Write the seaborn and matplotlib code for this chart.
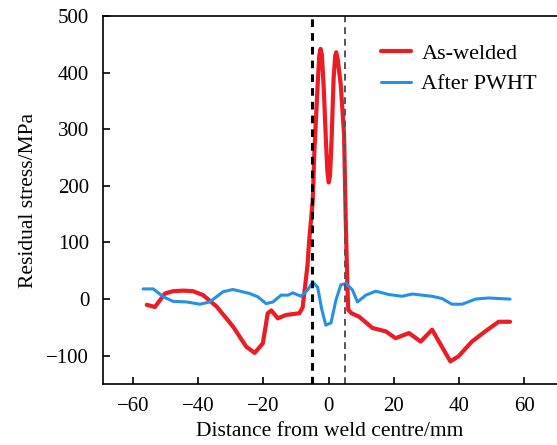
import numpy as np
import pandas as pd
import seaborn as sns
import matplotlib
matplotlib.use('Agg')
import matplotlib.pyplot as plt

# As-welded residual stress profile
x_welded = [-55.8, -53.3, -50.2, -47.7, -44.5, -41.6, -38.5, -34.4, -29.4, -25.3,
            -22.7, -20.2, -18.7, -17.6, -15.6, -13.1, -9.0, -8.0, -7.5, -6.5,
            -6.0, -4.9, -4.4, -3.4, -2.9, -2.5, -2.1, -1.5, -0.9, -0.4,
            0.0, 0.4, 0.9, 1.5, 2.0, 2.3, 2.8, 3.7, 4.7, 5.2,
            5.7, 6.0, 7.0, 9.3, 13.4, 17.5, 20.5, 24.6, 28.2, 31.7,
            34.7, 37.3, 39.8, 43.9, 48.0, 52.1, 55.6]
y_welded = [-10, -14, 10, 14, 15, 14, 7, -13, -48, -84,
            -95, -78, -25, -20, -34, -28, -25, -15, 10, 60,
            103, 174, 261, 378, 430, 442, 432, 370, 285, 225,
            206, 218, 285, 390, 430, 436, 422, 378, 291, 144,
            28, -19, -25, -31, -51, -57, -69, -60, -75, -54,
            -84, -110, -101, -75, -57, -40, -40]

# After PWHT residual stress profile
x_pwht = [-56.9, -53.8, -50.7, -47.7, -43.6, -39.5, -36.5, -32.4, -29.4, -24.3,
          -21.7, -19.2, -17.1, -14.6, -12.5, -11.0, -8.5, -6.5, -4.9, -3.4,
          -2.1, -0.9, 0.7, 2.2, 3.7, 5.3, 7.3, 8.8, 11.4, 14.4,
          18.5, 22.5, 25.6, 31.7, 34.7, 37.8, 40.9, 45.0, 49.0, 55.6]
y_pwht = [18, 18, 4, -4, -5, -9, -5, 13, 17, 10,
          4, -8, -5, 7, 7, 11, 5, 16, 30, 21,
          -19, -46, -42, -2, 25, 28, 16, -5, 7, 14,
          8, 5, 9, 5, 1, -9, -9, 0, 2, 0]

df = pd.concat([
    pd.DataFrame({'x': x_welded, 'y': y_welded, 'series': 'As-welded'}),
    pd.DataFrame({'x': x_pwht, 'y': y_pwht, 'series': 'After PWHT'}),
])

sns.set_style('ticks', {'axes.edgecolor': 'black', 'text.color': 'black',
                        'axes.labelcolor': 'black', 'xtick.color': 'black',
                        'ytick.color': 'black'})
plt.rcParams['font.family'] = ['Liberation Serif', 'DejaVu Serif']

fig = plt.figure(figsize=(5.57, 4.45), dpi=100)
ax = fig.add_axes([0.185, 0.137, 0.815, 0.827])

sns.lineplot(data=df, x='x', y='y', hue='series', sort=False, estimator=None,
             palette={'As-welded': '#ec1c24', 'After PWHT': '#2690e6'},
             ax=ax, legend=True)
for line, lw in zip(ax.lines, [3.0, 2.2]):
    line.set_linewidth(lw)

ax.axvline(-5, color='black', linestyle='--', linewidth=2.2, dashes=(2.5, 2))
ax.axvline(5, color='#555555', linestyle='--', linewidth=1.4, dashes=(3.5, 2.5))

ax.set_xlim(-69.2, 70)
ax.set_ylim(-150, 500)
ax.set_xticks([-60, -40, -20, 0, 20, 40, 60])
ax.set_yticks([-100, 0, 100, 200, 300, 400, 500])
ax.set_xticklabels(['\u221260', '\u221240', '\u221220', '0', '20', '40', '60'])
ax.set_yticklabels(['\u2212100', '0', '100', '200', '300', '400', '500'])
ax.tick_params(direction='in', length=5, width=1.2, labelsize=15, colors='black')
ax.tick_params(axis='x', pad=9)
ax.tick_params(axis='y', pad=10)
ax.spines['right'].set_visible(False)
for s in ['left', 'bottom', 'top']:
    ax.spines[s].set_linewidth(1.2)
    ax.spines[s].set_color('black')

ax.set_xlabel('Distance from weld centre/mm', fontsize=15.5, labelpad=5, color='black')
ax.set_ylabel('Residual stress/MPa', fontsize=15.5, labelpad=6, color='black')

leg = ax.legend(loc='upper right', bbox_to_anchor=(1.0, 0.98), frameon=False,
                fontsize=16, handlelength=1.35, handletextpad=0.45, labelspacing=0.45)
for h, lw in zip(leg.get_lines(), [3.0, 2.2]):
    h.set_linewidth(lw)
for t in leg.get_texts():
    t.set_color('black')

fig.savefig('out.png', dpi=100)
